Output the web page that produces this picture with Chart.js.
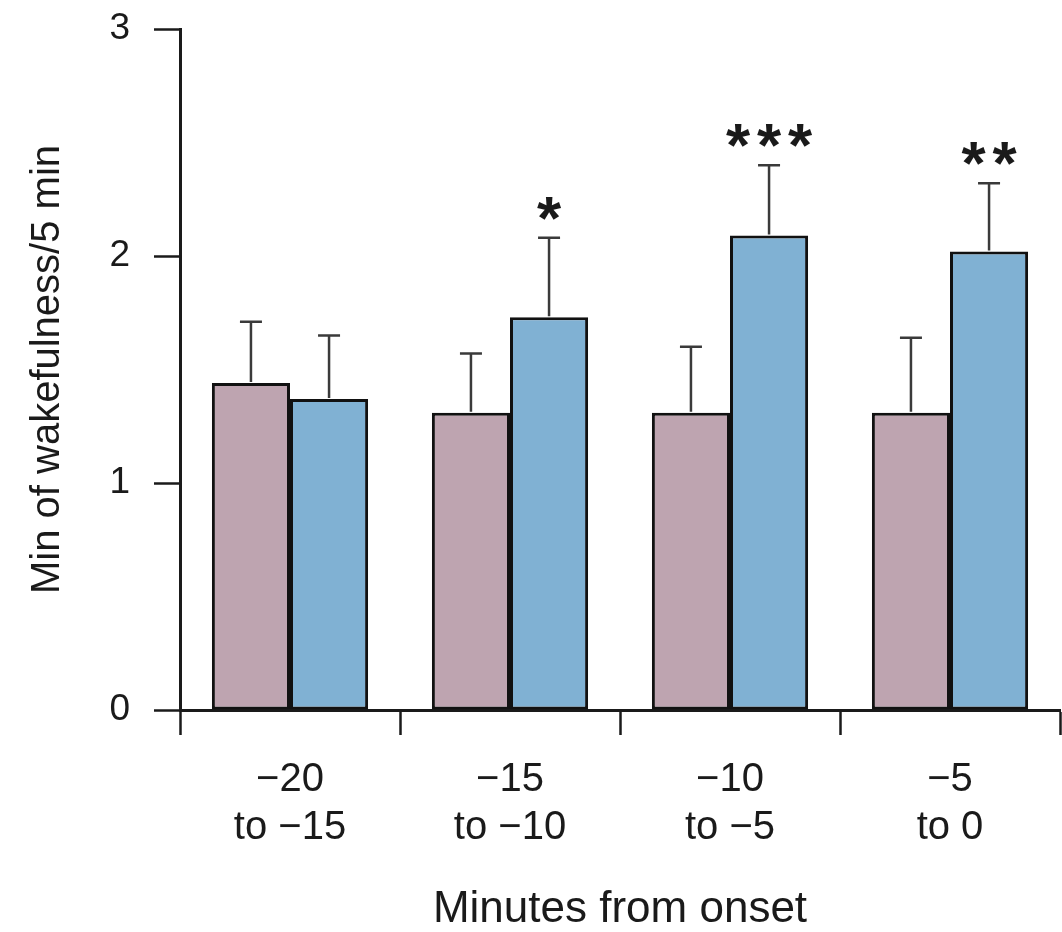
<!DOCTYPE html>
<html>
<head>
<meta charset="utf-8">
<script src="https://cdn.jsdelivr.net/npm/chart.js@4/dist/chart.umd.min.js"></script>
<style>
  body { margin: 0; background: #fff; }
  #wrap { width: 1062px; height: 932px; }
</style>
</head>
<body>
<div id="wrap"><canvas id="myChart"></canvas></div>
<script>
// data
var categories = [["\u221220", "to \u221215"], ["\u221215", "to \u221210"], ["\u221210", "to \u22125"], ["\u22125", "to 0"]];
var pinkMeans = [1.44, 1.31, 1.31, 1.31];
var pinkSem = [0.27, 0.26, 0.29, 0.33];
var blueMeans = [1.37, 1.73, 2.09, 2.02];
var blueSem = [0.28, 0.35, 0.31, 0.30];
var blueMarks = ["", "*", "***", "**"];
var yTicks = [0, 1, 2, 3];

var sFont = "'Liberation Sans', Arial, Helvetica, sans-serif";
var sInk = "#1a1a1a";

// error bars (upward only) + significance stars
var errorBarPlugin = {
    id: "errorBars",
    afterDatasetsDraw: function (chart) {
        var ctx = chart.ctx;
        var yScale = chart.scales.y;
        var sems = [pinkSem, blueSem];
        var starSize = 62;
        ctx.save();
        chart.data.datasets.forEach(function (ds, di) {
            var meta = chart.getDatasetMeta(di);
            meta.data.forEach(function (bar, i) {
                var yTop = yScale.getPixelForValue(ds.data[i] + sems[di][i]);
                ctx.strokeStyle = "#3a3a3a";
                ctx.lineWidth = 2.5;
                ctx.beginPath();
                ctx.moveTo(bar.x, bar.y - 1);
                ctx.lineTo(bar.x, yTop);
                ctx.moveTo(bar.x - 11, yTop);
                ctx.lineTo(bar.x + 11, yTop);
                ctx.stroke();
                if (di === 1 && blueMarks[i]) {
                    var n = blueMarks[i].length;
                    ctx.fillStyle = sInk;
                    ctx.font = "bold " + starSize + "px " + sFont;
                    ctx.textAlign = "center";
                    ctx.textBaseline = "alphabetic";
                    for (var k = 0; k < n; k++) {
                        var cx = bar.x + (k - (n - 1) / 2) * 31;
                        ctx.fillText("*", cx, yTop - 29 + 0.48 * starSize);
                    }
                }
            });
        });
        ctx.restore();
    }
};

var ctx = document.getElementById("myChart");
var chart = new Chart(ctx, {
    type: "bar",
    data: {
        labels: categories,
        datasets: [
            {
                label: "pink",
                data: pinkMeans,
                backgroundColor: "#bea4b0",
                borderColor: "#111",
                borderWidth: 3,
                borderSkipped: false
            },
            {
                label: "blue",
                data: blueMeans,
                backgroundColor: "#80b1d3",
                borderColor: "#111",
                borderWidth: 3,
                borderSkipped: false
            }
        ]
    },
    options: {
        responsive: true,
        maintainAspectRatio: false,
        animation: false,
        events: [],
        categoryPercentage: 0.71,
        barPercentage: 1.0,
        layout: { padding: { left: 0, right: 2, top: 29, bottom: 0 } },
        plugins: {
            legend: { display: false },
            tooltip: { enabled: false }
        },
        scales: {
            x: {
                grid: {
                    offset: true,
                    drawOnChartArea: false,
                    drawTicks: true,
                    tickLength: 25,
                    tickWidth: 2.5,
                    tickColor: sInk
                },
                border: { display: true, color: sInk, width: 3 },
                ticks: {
                    color: sInk,
                    padding: 21,
                    maxRotation: 0,
                    font: { family: sFont, size: 40, lineHeight: 1.2 }
                },
                title: {
                    display: true,
                    text: "Minutes from onset",
                    color: sInk,
                    font: { family: sFont, size: 44, lineHeight: 1 },
                    padding: { top: 0, bottom: 0 }
                },
                afterFit: function (scale) {
                    scale.height = 222;
                    scale.paddingLeft = 0;
                    scale.paddingRight = 0;
                }
            },
            y: {
                min: 0,
                max: 3,
                afterBuildTicks: function (scale) {
                    scale.ticks = yTicks.map(function (v) { return { value: v }; });
                },
                grid: {
                    drawOnChartArea: false,
                    drawTicks: true,
                    tickLength: 26,
                    tickWidth: 2.5,
                    tickColor: sInk
                },
                border: { display: true, color: sInk, width: 3 },
                ticks: {
                    color: sInk,
                    padding: 24,
                    font: { family: sFont, size: 37 }
                },
                title: {
                    display: true,
                    text: "Min of wakefulness/5 min",
                    color: sInk,
                    font: { family: sFont, size: 40, lineHeight: 1 },
                    padding: { top: 28, bottom: 0 }
                },
                afterFit: function (scale) {
                    scale.width = 180;
                    scale.paddingTop = 0;
                    scale.paddingBottom = 0;
                }
            }
        }
    },
    plugins: [errorBarPlugin]
});
</script>
</body>
</html>
